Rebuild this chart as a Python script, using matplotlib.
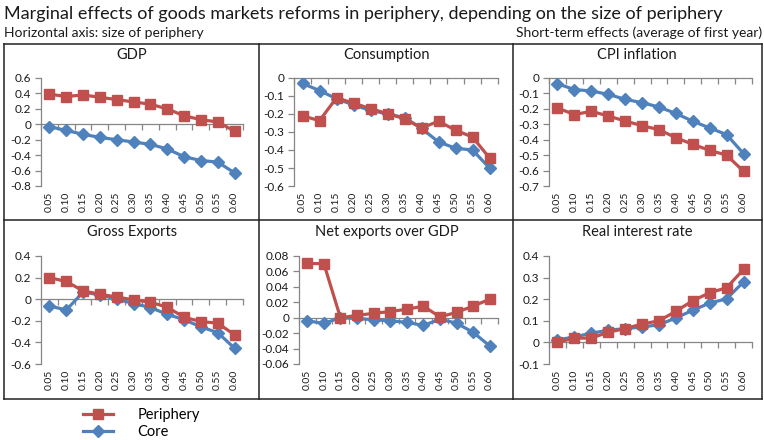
import matplotlib
matplotlib.use("Agg")
import matplotlib.pyplot as plt
import numpy as np
from matplotlib.lines import Line2D
from matplotlib.ticker import FuncFormatter, FixedLocator

plt.rcParams['font.family'] = ['Lato', 'DejaVu Sans']

W, H = 764, 440

sizes = ["0.05", "0.10", "0.15", "0.20", "0.25", "0.30", "0.35", "0.40", "0.45", "0.50", "0.55", "0.60"]

gdp_periphery = [0.39, 0.36, 0.38, 0.35, 0.32, 0.29, 0.26, 0.20, 0.11, 0.06, 0.03, -0.09]
gdp_core = [-0.03, -0.08, -0.13, -0.17, -0.20, -0.23, -0.26, -0.32, -0.42, -0.47, -0.49, -0.63]

cons_periphery = [-0.21, -0.237, -0.11, -0.14, -0.17, -0.198, -0.226, -0.278, -0.24, -0.29, -0.328, -0.444]
cons_core = [-0.03, -0.07, -0.115, -0.15, -0.18, -0.20, -0.22, -0.28, -0.355, -0.39, -0.40, -0.50]

cpi_periphery = [-0.194, -0.237, -0.216, -0.246, -0.279, -0.309, -0.335, -0.387, -0.43, -0.469, -0.50, -0.605]
cpi_core = [-0.037, -0.075, -0.084, -0.106, -0.138, -0.16, -0.188, -0.23, -0.28, -0.324, -0.367, -0.49]

gx_periphery = [0.20, 0.164, 0.077, 0.046, 0.02, -0.006, -0.028, -0.074, -0.167, -0.207, -0.222, -0.33]
gx_core = [-0.062, -0.10, 0.065, 0.04, 0.0, -0.04, -0.077, -0.14, -0.19, -0.256, -0.31, -0.454]

nx_periphery = [0.0704, 0.070, 0.0, 0.003, 0.0057, 0.008, 0.011, 0.015, 0.001, 0.007, 0.015, 0.024]
nx_core = [-0.004, -0.0074, 0.0, -0.001, -0.0026, -0.004, -0.006, -0.010, -0.002, -0.007, -0.019, -0.0365]

ri_periphery = [0.0, 0.02, 0.02, 0.047, 0.064, 0.085, 0.10, 0.144, 0.193, 0.23, 0.253, 0.338]
ri_core = [0.012, 0.025, 0.043, 0.056, 0.064, 0.071, 0.082, 0.113, 0.149, 0.182, 0.202, 0.28]

panels = [
    ("GDP", gdp_periphery, gdp_core, (-0.8, 0.6), 0.2, (41, 243, 78, 186), 132),
    ("Consumption", cons_periphery, cons_core, (-0.6, 0.0), 0.1, (294, 498, 78, 186), 387),
    ("CPI inflation", cpi_periphery, cpi_core, (-0.7, 0.0), 0.1, (549, 752, 78, 186), 637),
    ("Gross Exports", gx_periphery, gx_core, (-0.6, 0.4), 0.2, (41, 243, 256, 364), 132),
    ("Net exports over GDP", nx_periphery, nx_core, (-0.06, 0.08), 0.02, (299, 498, 256, 364), 387),
    ("Real interest rate", ri_periphery, ri_core, (-0.1, 0.4), 0.1, (549, 752, 256, 364), 637),
]

RED = "#C0504D"
BLUE = "#4F81BD"
AXC = "#868686"
TXT = "#1a1a1a"

fig = plt.figure(figsize=(W / 100, H / 100), dpi=100)


def fmt(v, pos):
    if abs(v) < 1e-9:
        return "0"
    return ("%.2f" % v).rstrip("0").rstrip(".")


x = np.arange(len(sizes))
line_handles = None
for title, per, core, (ylo, yhi), step, (l, r, t, b), cx in panels:
    ax = fig.add_axes([l / W, 1 - b / H, (r - l) / W, (b - t) / H])
    lc, = ax.plot(x, core, color=BLUE, lw=2.3, marker="D", ms=6, mfc=BLUE, mec=BLUE, zorder=3)
    lp, = ax.plot(x, per, color=RED, lw=2.3, marker="s", ms=7.5, mfc=RED, mec=RED, zorder=4)
    line_handles = (lp, lc)
    ax.set_xlim(-0.5, len(sizes) - 0.5)
    ax.set_ylim(ylo, yhi)
    ax.set_facecolor("none")
    for s in ("top", "right"):
        ax.spines[s].set_visible(False)
    ax.spines["left"].set_color(AXC)
    ax.spines["left"].set_linewidth(0.9)
    ax.spines["bottom"].set_position(("data", 0))
    ax.spines["bottom"].set_color(AXC)
    ax.spines["bottom"].set_linewidth(0.9)
    nt = int(round((yhi - ylo) / step))
    yt = [ylo + i * step for i in range(nt + 1)]
    ax.yaxis.set_major_locator(FixedLocator(yt))
    ax.yaxis.set_major_formatter(FuncFormatter(fmt))
    ax.tick_params(axis="y", direction="out", length=4, width=0.9, color=AXC,
                   labelsize=8.5, labelcolor=TXT, pad=3)
    ax.xaxis.set_major_locator(FixedLocator(np.arange(-0.5, len(sizes), 1.0)))
    ax.tick_params(axis="x", direction="out", length=4, width=0.9, color=AXC,
                   labelbottom=False)
    for xi, lab in zip(x, sizes):
        ax.text(xi, -0.05, lab, transform=ax.get_xaxis_transform(), rotation=90,
                ha="center", va="top", fontsize=7.5, color=TXT)
    ty = 55 if t < 200 else 232
    fig.text(cx / W, 1 - ty / H, title, ha="center", va="center", fontsize=10.5, color=TXT)


def hline(y, x0, x1):
    fig.add_artist(Line2D([x0 / W, x1 / W], [1 - y / H, 1 - y / H], color="#222222", lw=1.1))


def vline(xp, y0, y1):
    fig.add_artist(Line2D([xp / W, xp / W], [1 - y0 / H, 1 - y1 / H], color="#222222", lw=1.1))


hline(44, 4, 762)
hline(220, 4, 762)
hline(399, 4, 762)
vline(4, 44, 399)
vline(259, 44, 399)
vline(513, 44, 399)
vline(762, 44, 399)

fig.text(4 / W, 1 - 14 / H, "Marginal effects of goods markets reforms in periphery, depending on the size of periphery",
         ha="left", va="center", fontsize=13, color=TXT)
fig.text(4 / W, 1 - 33 / H, "Horizontal axis: size of periphery", ha="left", va="center", fontsize=10, color=TXT)
fig.text(762 / W, 1 - 33 / H, "Short-term effects (average of first year)", ha="right", va="center",
         fontsize=10, color=TXT)

fig.legend(line_handles, ["Periphery", "Core"], loc="upper left",
           bbox_to_anchor=(74 / W, 1 - 399 / H), frameon=False, fontsize=10.5,
           handlelength=2.0, handletextpad=1.7, labelspacing=0.2, borderpad=0.15)

fig.savefig("out.png", dpi=100)
